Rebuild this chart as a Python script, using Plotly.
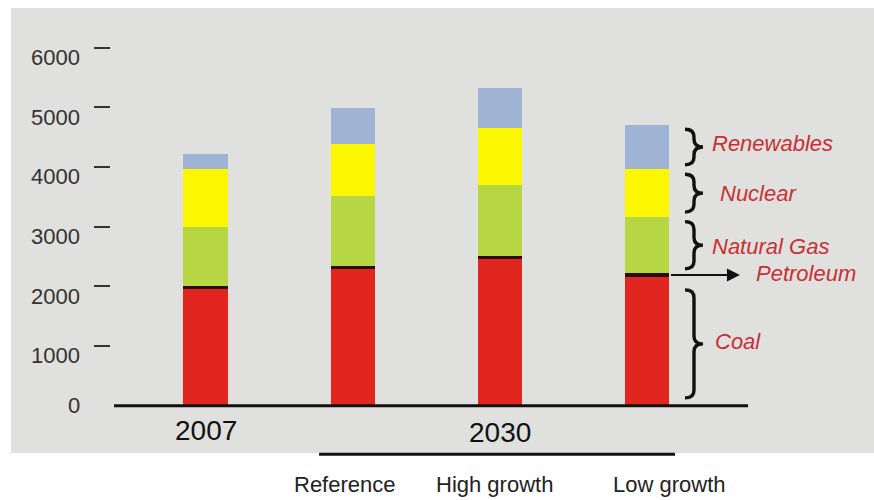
import plotly.graph_objects as go

# ---- data ----
categories = ["2007", "Reference", "High growth", "Low growth"]
x_pos = [0, 1, 2, 3]
coal = [1950, 2290, 2450, 2160]
petroleum = [60, 50, 60, 55]
natural_gas = [990, 1172, 1195, 948]
nuclear = [965, 866, 940, 794]
renewables = [250, 604, 670, 753]

series_names = ["Coal", "Petroleum", "Natural Gas", "Nuclear", "Renewables"]
series_values = [coal, petroleum, natural_gas, nuclear, renewables]
series_colors = ["#e0261e", "#2a0c06", "#b6d643", "#fbf700", "#9fb4d5"]

y_ticks = [0, 1000, 2000, 3000, 4000, 5000, 6000]
year_labels = ["2007", "2030"]
scenario_labels = ["Reference", "High growth", "Low growth"]

fig = go.Figure()
for name, vals, col in zip(series_names, series_values, series_colors):
    fig.add_trace(go.Bar(x=x_pos, y=vals, name=name, width=0.299,
                         marker=dict(color=col, line=dict(width=0)),
                         showlegend=False))

XR = [-0.6415, 4.538]
YR = [-1580, 6796]

shapes = []
# grey slide background
shapes.append(dict(type="rect", xref="paper", yref="paper",
                   x0=-0.131, x1=1.0, y0=0.094, y1=0.984,
                   fillcolor="#e0e0de", line=dict(width=0), layer="below"))
# baseline
shapes.append(dict(type="line", xref="x", yref="y", x0=-0.621, x1=3.683, y0=0, y1=0,
                   line=dict(color="#111", width=3)))
# 2030 underline
shapes.append(dict(type="line", xref="x", yref="y", x0=0.771, x1=3.187, y0=-814, y1=-814,
                   line=dict(color="#111", width=3)))


def brace(y0, y1, x0=3.255, x1=3.377, q=130):
    xm = (x0 + x1) / 2
    ym = (y0 + y1) / 2
    return (f"M {x0},{y1} Q {xm},{y1} {xm},{y1 - q} L {xm},{ym + q} "
            f"Q {xm},{ym} {x1},{ym} Q {xm},{ym} {xm},{ym - q} "
            f"L {xm},{y0 + q} Q {xm},{y0} {x0},{y0}")


# braces along the low growth bar segments (not petroleum)
i = 3
bottoms = []
acc = 0
for vals in series_values:
    bottoms.append(acc)
    acc += vals[i]
tops = [b + v[i] for b, v in zip(bottoms, series_values)]
for k in [0, 2, 3, 4]:
    inset = 80
    y0 = bottoms[k] + inset
    y1 = tops[k] - inset
    if k == 0:
        y0 = bottoms[k] + 130
        y1 = tops[k] - 220
    shapes.append(dict(type="path", xref="x", yref="y",
                       path=brace(y0, y1, q=min(130, (y1 - y0) / 4)),
                       line=dict(color="#111", width=3.4)))

annotations = []
# y tick labels
for v in y_ticks:
    annotations.append(dict(xref="paper", yref="y", x=-0.038, y=v, text=str(v),
                            xanchor="right", yanchor="middle", showarrow=False,
                            yshift=0 if v == 0 else -10,
                            font=dict(family="Liberation Sans, Arial", size=22, color="#333")))
# year labels
annotations.append(dict(xref="x", yref="y", x=0, y=-415, text=year_labels[0], showarrow=False,
                        font=dict(family="Liberation Sans, Arial", size=28, color="#111")))
annotations.append(dict(xref="x", yref="y", x=2, y=-457, text=year_labels[1], showarrow=False,
                        font=dict(family="Liberation Sans, Arial", size=28, color="#111")))
# scenario labels
for xs, lab in zip([0.944, 1.965, 3.153], scenario_labels):
    annotations.append(dict(xref="x", yref="y", x=xs, y=-1328, text=lab, showarrow=False,
                            font=dict(family="Liberation Sans, Arial", size=22, color="#222")))

red = "#c92f33"
lab_font = dict(family="Liberation Sans, Arial", size=22, color=red)
mids = [(b + t) / 2 for b, t in zip(bottoms, tops)]
label_x = {"Renewables": 3.425, "Nuclear": 3.479, "Natural Gas": 3.425, "Coal": 3.445}
label_y = {"Renewables": mids[4] + 60, "Nuclear": mids[3], "Natural Gas": mids[2] - 30, "Coal": mids[0]}
for name in ["Renewables", "Nuclear", "Natural Gas", "Coal"]:
    annotations.append(dict(xref="x", yref="y", x=label_x[name], y=label_y[name],
                            text=f"<i>{name}</i>", xanchor="left", yanchor="middle",
                            showarrow=False, font=lab_font))
# petroleum arrow + label
annotations.append(dict(xref="x", yref="y", x=3.628, y=mids[1], ax=3.1495, ay=mids[1],
                        axref="x", ayref="y", text="", showarrow=True,
                        arrowhead=2, arrowsize=1.3, arrowwidth=2, arrowcolor="#111"))
annotations.append(dict(xref="x", yref="y", x=3.724, y=mids[1] + 35,
                        text="<i>Petroleum</i>", xanchor="left", yanchor="middle",
                        showarrow=False, font=lab_font))

fig.update_layout(
    width=874, height=500, autosize=False,
    margin=dict(l=111, r=0, t=0, b=0, pad=0),
    barmode="stack", bargap=0,
    paper_bgcolor="white", plot_bgcolor="rgba(0,0,0,0)",
    xaxis=dict(range=XR, visible=False, fixedrange=True),
    yaxis=dict(range=YR, showgrid=False, zeroline=False, showline=False,
               tickvals=y_ticks[1:], ticks="outside", ticklen=16, tickwidth=2,
               tickcolor="#333", showticklabels=False, fixedrange=True),
    shapes=shapes, annotations=annotations,
)

fig.write_html("out.html")
